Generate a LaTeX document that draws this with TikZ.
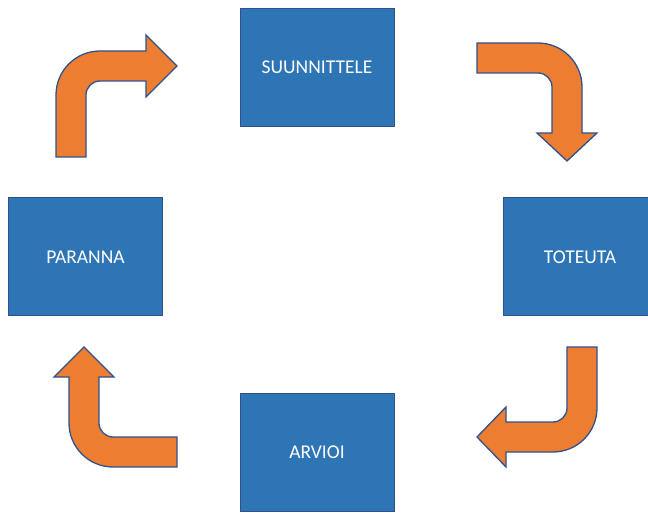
\documentclass[tikz,border=0pt]{standalone}
\usepackage{fontspec}
\setmainfont{Carlito}
\definecolor{boxfill}{HTML}{2E75B6}
\definecolor{boxline}{HTML}{2F528F}
\definecolor{arrfill}{HTML}{ED7D31}
\begin{document}
\begin{tikzpicture}[x=1pt,y=1pt,
  stepbox/.style={draw=boxline,line width=1pt,fill=boxfill,minimum width=154pt,minimum height=118pt,inner sep=0pt,text=white,font=\fontsize{19.5}{22}\selectfont},
  bentarrow/.style={draw=boxline,line width=1.3pt,fill=arrfill,line join=miter}]
\useasboundingbox (0,0) rectangle (648,512);
\clip (0,0) rectangle (648,512);
\node[stepbox] (plan) at (317,444.5) {SUUNNITTELE};
\node[stepbox] (do) at (580,255) {TOTEUTA};
\node[stepbox] (act) at (85.5,255) {PARANNA};
\node[stepbox] (check) at (317,60) {ARVIOI};
% top-left arrow
\draw[bentarrow] (56,355) -- (56,417) arc[start angle=180,end angle=90,radius=44]
  -- (146,461) -- (146,477) -- (177,446) -- (146,415) -- (146,431) -- (100,431)
  arc[start angle=90,end angle=180,radius=14] -- (86,355) -- cycle;
% top-right arrow
\draw[bentarrow] (477,469) -- (538,469) arc[start angle=90,end angle=0,radius=44]
  -- (582,379) -- (597,379) -- (567,351) -- (537,379) -- (552,379) -- (552,425)
  arc[start angle=0,end angle=90,radius=14] -- (477,439) -- cycle;
% bottom-right arrow
\draw[bentarrow] (567,165) -- (597,165) -- (597,104) arc[start angle=0,end angle=-90,radius=44]
  -- (506,60) -- (506,45) -- (477,75) -- (506,105) -- (506,90) -- (553,90)
  arc[start angle=-90,end angle=0,radius=14] -- cycle;
% bottom-left arrow
\draw[bentarrow] (177,75) -- (113,75) arc[start angle=270,end angle=180,radius=14]
  -- (99,135) -- (114,135) -- (84,165) -- (54,135) -- (69,135) -- (69,89)
  arc[start angle=180,end angle=270,radius=44] -- (177,45) -- cycle;
\end{tikzpicture}
\end{document}
